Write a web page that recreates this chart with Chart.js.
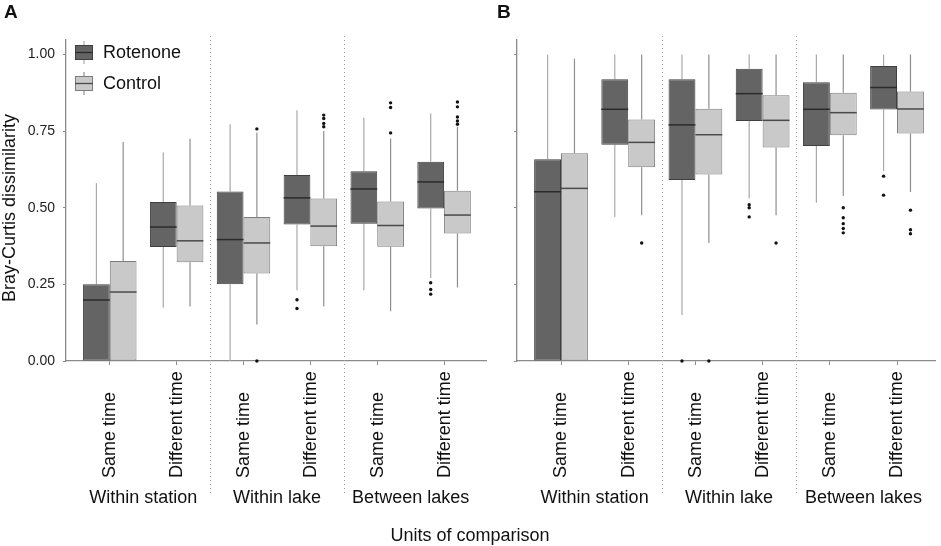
<!DOCTYPE html>
<html>
<head>
<meta charset="utf-8">
<script src="https://cdn.jsdelivr.net/npm/chart.js@4.4.1/dist/chart.umd.min.js"></script>
<style>
  body { margin: 0; background: #fff; }
  #wrap { position: relative; width: 941px; height: 546px; overflow: hidden; }
  #chartA { position: absolute; left: 0; top: 0; }
  #chartB { position: absolute; left: 490px; top: 0; }
  #xtitle { position: absolute; left: 0; top: 526px; width: 940px; text-align: center;
            font: 18px 'Liberation Sans', Arial, sans-serif; line-height: 18px; color: #111; }
</style>
</head>
<body>
<div id="wrap">
  <canvas id="chartA" width="490" height="546"></canvas>
  <canvas id="chartB" width="451" height="546"></canvas>
  <div id="xtitle">Units of comparison</div>
</div>
<script>
const categories = ['Same time', 'Different time', 'Same time', 'Different time', 'Same time', 'Different time'];
const groups = ['Within station', 'Within lake', 'Between lakes'];
const yTicks = [0, 0.25, 0.5, 0.75, 1];

// each entry: [min, q1, median, q3, max]
const rotenoneA = [
  [0, 0, 0.199, 0.25, 0.58],
  [0.174, 0.372, 0.437, 0.519, 0.68],
  [0, 0.25, 0.396, 0.553, 0.772],
  [0.231, 0.445, 0.532, 0.607, 0.818],
  [0.231, 0.448, 0.561, 0.619, 0.793],
  [0.271, 0.497, 0.584, 0.65, 0.807]
];
const controlA = [
  [0, 0, 0.225, 0.326, 0.714],
  [0.178, 0.322, 0.392, 0.507, 0.725],
  [0.119, 0.285, 0.385, 0.47, 0.745],
  [0.178, 0.374, 0.44, 0.53, 0.75],
  [0.162, 0.373, 0.442, 0.52, 0.726],
  [0.24, 0.416, 0.476, 0.555, 0.764]
];
const rotenoneOutA = [[], [], [], [0.2, 0.171], [], [0.255, 0.233, 0.218]];
const controlOutA = [[], [], [0.757, 0], [0.802, 0.791, 0.775, 0.764], [0.842, 0.827, 0.744], [0.845, 0.829, 0.796, 0.783, 0.772]];

const rotenoneB = [
  [0, 0, 0.552, 0.658, 0.999],
  [0.47, 0.705, 0.821, 0.919, 1.0],
  [0.15, 0.59, 0.77, 0.919, 1.0],
  [0.53, 0.783, 0.872, 0.953, 1.0],
  [0.516, 0.701, 0.821, 0.909, 1.0],
  [0.62, 0.82, 0.892, 0.962, 1.0]
];
const controlB = [
  [0, 0, 0.563, 0.678, 0.986],
  [0.475, 0.632, 0.713, 0.788, 1.0],
  [0.385, 0.608, 0.738, 0.823, 1.0],
  [0.475, 0.696, 0.785, 0.867, 1.0],
  [0.538, 0.736, 0.81, 0.875, 1.0],
  [0.551, 0.742, 0.822, 0.879, 1.0]
];
const rotenoneOutB = [[], [], [0], [0.51, 0.5, 0.47], [], [0.603, 0.541]];
const controlOutB = [[], [0.385], [0], [0.385], [0.5, 0.467, 0.448, 0.432, 0.418], [0.492, 0.428, 0.415]];

const FONT = "'Liberation Sans', Arial, sans-serif";
Chart.defaults.font.family = FONT;
Chart.defaults.color = '#111';

const ROT = { fill: '#646464', border: '#3f3f3f', median: '#2b2b2b', whisker: '#a9a9a9' };
const CTL = { fill: '#c9c9c9', border: '#7d7d7d', median: '#4a4a4a', whisker: '#8f8f8f' };
const AXIS = '#8a8a8a';
const dodge = 0.8 / 4;
const separators = groups.slice(1).map((g, i) => 2 * (i + 1) + 0.5);

function boxDataset(label, stats, st) {
  return {
    type: 'bar', label,
    data: stats.map((s, i) => ({ x: i + 1, y: [s[1], s[3]] })),
    stats, medianColor: st.median, whiskerColor: st.whisker,
    backgroundColor: st.fill, borderColor: st.border, borderWidth: 1,
    borderSkipped: false, categoryPercentage: 0.8, barPercentage: 1
  };
}

function outlierDataset(out, shift) {
  const pts = [];
  out.forEach((vals, i) => vals.forEach(v => pts.push({ x: i + 1 + shift, y: v })));
  return { type: 'scatter', data: pts, pointRadius: 1.7, pointBackgroundColor: '#111',
           pointBorderWidth: 0, showLine: false, clip: false };
}

function drawGlyph(ctx, x, top, st) {
  ctx.strokeStyle = st.whisker; ctx.lineWidth = 1.2;
  ctx.beginPath(); ctx.moveTo(x + 9, top - 4); ctx.lineTo(x + 9, top + 19); ctx.stroke();
  ctx.fillStyle = st.fill; ctx.fillRect(x, top, 18, 15);
  ctx.strokeStyle = st.border; ctx.lineWidth = 1; ctx.strokeRect(x + 0.5, top + 0.5, 17, 14);
  ctx.strokeStyle = st.median; ctx.lineWidth = 1.3;
  ctx.beginPath(); ctx.moveTo(x, top + 7.5); ctx.lineTo(x + 18, top + 7.5); ctx.stroke();
}

function decor(letter, showLegend) {
  return {
    id: 'decor' + letter,
    beforeDatasetsDraw(chart) {
      const { ctx, scales: { x, y } } = chart;
      ctx.save();
      ctx.strokeStyle = '#a0a0a0'; ctx.lineWidth = 1; ctx.setLineDash([1, 3]);
      separators.forEach(v => {
        const px = Math.round(x.getPixelForValue(v)) + 0.5;
        ctx.beginPath(); ctx.moveTo(px, chart.chartArea.top - 4); ctx.lineTo(px, 493); ctx.stroke();
      });
      ctx.restore();
      chart.data.datasets.forEach((ds, di) => {
        if (!ds.stats) return;
        const meta = chart.getDatasetMeta(di);
        ctx.save();
        ctx.strokeStyle = ds.whiskerColor; ctx.lineWidth = 1.2;
        meta.data.forEach((el, i) => {
          const s = ds.stats[i];
          ctx.beginPath();
          ctx.moveTo(el.x, y.getPixelForValue(s[3])); ctx.lineTo(el.x, y.getPixelForValue(s[4]));
          ctx.moveTo(el.x, y.getPixelForValue(s[1])); ctx.lineTo(el.x, y.getPixelForValue(s[0]));
          ctx.stroke();
        });
        ctx.restore();
      });
    },
    afterDatasetsDraw(chart) {
      const { ctx, scales: { y } } = chart;
      chart.data.datasets.forEach((ds, di) => {
        if (!ds.stats) return;
        const meta = chart.getDatasetMeta(di);
        ctx.save();
        ctx.strokeStyle = ds.medianColor; ctx.lineWidth = 1.5;
        meta.data.forEach((el, i) => {
          const py = y.getPixelForValue(ds.stats[i][2]);
          ctx.beginPath(); ctx.moveTo(el.x - el.width / 2, py); ctx.lineTo(el.x + el.width / 2, py); ctx.stroke();
        });
        ctx.restore();
      });
    },
    afterDraw(chart) {
      const { ctx, scales: { x } } = chart;
      ctx.save();
      ctx.fillStyle = '#111';
      ctx.font = '18px ' + FONT;
      categories.forEach((c, i) => {
        ctx.save();
        ctx.translate(x.getPixelForValue(i + 1) + 0.5, 478);
        ctx.rotate(-Math.PI / 2);
        ctx.textAlign = 'left'; ctx.textBaseline = 'middle';
        ctx.fillText(c, 0, 0);
        ctx.restore();
      });
      ctx.textAlign = 'center'; ctx.textBaseline = 'middle';
      groups.forEach((g, i) => ctx.fillText(g, x.getPixelForValue(2 * i + 1.5), 498));
      ctx.font = 'bold 19px ' + FONT;
      ctx.textAlign = 'left'; ctx.textBaseline = 'alphabetic';
      ctx.fillText(letter, letter === 'A' ? 4 : 7, 18);
      if (showLegend) {
        ctx.font = '18px ' + FONT;
        ctx.save();
        ctx.translate(10, 208); ctx.rotate(-Math.PI / 2);
        ctx.textAlign = 'center'; ctx.textBaseline = 'middle';
        ctx.fillText('Bray-Curtis dissimilarity', 0, 0);
        ctx.restore();
        drawGlyph(ctx, 75, 45, ROT);
        drawGlyph(ctx, 75, 76, CTL);
        ctx.fillStyle = '#111'; ctx.textAlign = 'left'; ctx.textBaseline = 'middle';
        ctx.fillText('Rotenone', 103, 53);
        ctx.fillText('Control', 103, 84);
      }
      ctx.restore();
    }
  };
}

function makeChart(id, letter, rot, ctl, rotOut, ctlOut, opts) {
  return new Chart(document.getElementById(id), {
    type: 'bar',
    data: {
      datasets: [
        boxDataset('Rotenone', rot, ROT),
        boxDataset('Control', ctl, CTL),
        outlierDataset(rotOut, -dodge),
        outlierDataset(ctlOut, dodge)
      ]
    },
    options: {
      responsive: false,
      animation: false,
      layout: { padding: { left: 0, right: opts.padRight, top: 40, bottom: 0 } },
      plugins: { legend: { display: false }, tooltip: { enabled: false } },
      scales: {
        x: {
          type: 'linear', min: opts.xMin, max: opts.xMax, offset: false,
          afterBuildTicks: s => { s.ticks = categories.map((c, i) => ({ value: i + 1 })); },
          ticks: { display: false },
          grid: { drawOnChartArea: false, drawTicks: true, tickLength: 4, color: AXIS, offset: false },
          border: { display: true, color: AXIS, width: 1.3 },
          afterFit: s => { s.height = 185; }
        },
        y: {
          min: 0, max: 1.047,
          afterBuildTicks: s => { s.ticks = yTicks.map(v => ({ value: v })); },
          ticks: { display: opts.yLabels, padding: 8, color: '#222', font: { size: 14 },
                   callback: v => v.toFixed(2) },
          grid: { drawOnChartArea: false, drawTicks: true, tickLength: 3, color: AXIS },
          border: { display: true, color: AXIS, width: 1.3 },
          afterFit: s => { s.width = opts.left; }
        }
      }
    },
    plugins: [decor(letter, opts.yLabels)]
  });
}

makeChart('chartA', 'A', rotenoneA, controlA, rotenoneOutA, controlOutA,
  { left: 66, padRight: 3, xMin: 0.345, xMax: 6.627, yLabels: true });
makeChart('chartB', 'B', rotenoneB, controlB, rotenoneOutB, controlOutB,
  { left: 27, padRight: 6, xMin: 0.345, xMax: 6.565, yLabels: false });
</script>
</body>
</html>
